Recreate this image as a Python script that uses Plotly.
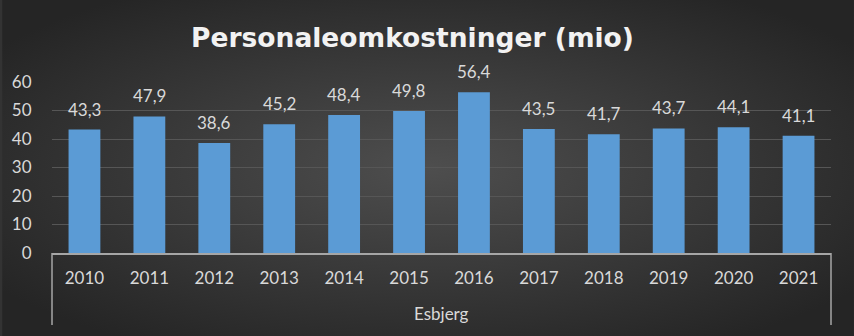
import base64
import plotly.graph_objects as go

years = ["2010", "2011", "2012", "2013", "2014", "2015", "2016", "2017", "2018", "2019", "2020", "2021"]
values = [43.3, 47.9, 38.6, 45.2, 48.4, 49.8, 56.4, 43.5, 41.7, 43.7, 44.1, 41.1]
group_label = "Esbjerg"
title_text = "Personaleomkostninger (mio)"
y_ticks = [0, 10, 20, 30, 40, 50, 60]

W, H = 854, 336
L, R, T, B = 50, 23, 82, 83
pw, ph = W - L - R, H - T - B

svg = f'''<svg xmlns="http://www.w3.org/2000/svg" width="{W}" height="{H}" viewBox="0 0 {W} {H}" preserveAspectRatio="none">
<defs>
<radialGradient id="g" cx="50%" cy="50%" r="62%" gradientUnits="objectBoundingBox">
<stop offset="0%" stop-color="#4e4e4e"/>
<stop offset="100%" stop-color="#252525"/>
</radialGradient>
</defs>
<rect x="0" y="0" width="{W}" height="{H}" fill="url(#g)"/>
</svg>'''
bg_uri = "data:image/svg+xml;base64," + base64.b64encode(svg.encode()).decode()

txt_color = "#d9d9d9"
font_family = "Lato, 'Open Sans', sans-serif"

fig = go.Figure()
fig.add_trace(go.Bar(
    x=years, y=values,
    marker=dict(color="#5b9bd5", line=dict(width=0)),
    width=0.49,
    hoverinfo="skip",
))

annotations = []
for i, v in enumerate(values):
    annotations.append(dict(
        x=i, y=v, xref="x", yref="y",
        text=f"{v:.1f}".replace(".", ","),
        showarrow=False, yanchor="bottom", yshift=8,
        font=dict(size=17, color=txt_color, family=font_family),
    ))
annotations.append(dict(
    x=0.5, y=-(313 - (T + ph)) / ph, xref="paper", yref="paper",
    text=group_label, showarrow=False, xanchor="center", yanchor="middle",
    font=dict(size=17, color=txt_color, family=font_family),
))

shapes = [
    dict(type="line", xref="paper", yref="paper", x0=0, x1=0, y0=0, y1=-(325 - (T + ph)) / ph,
         line=dict(color="#a6a6a6", width=1.5)),
    dict(type="line", xref="paper", yref="paper", x0=1, x1=1, y0=0, y1=-(325 - (T + ph)) / ph,
         line=dict(color="#a6a6a6", width=1.5)),
]

fig.update_layout(
    width=W, height=H,
    margin=dict(l=L, r=R, t=T, b=B, pad=0),
    paper_bgcolor="#333333",
    plot_bgcolor="rgba(0,0,0,0)",
    images=[dict(source=bg_uri, xref="paper", yref="paper",
                 x=-L / pw, y=1 + T / ph, sizex=W / pw, sizey=H / ph,
                 xanchor="left", yanchor="top", sizing="stretch", layer="below")],
    title=dict(text=f"<b>{title_text}</b>", x=412.5 / W, xanchor="center", y=1 - 38 / H, yanchor="middle",
               font=dict(size=26.5, color="#f2f2f2", family="'DejaVu Sans', sans-serif")),
    showlegend=False,
    annotations=annotations,
    shapes=shapes,
    xaxis=dict(
        type="category", range=[-0.5, len(years) - 0.5], autorange=False,
        showgrid=False, showline=True, linecolor="#a6a6a6", linewidth=1.5,
        ticks="outside", ticklen=9, tickcolor="rgba(0,0,0,0)",
        tickfont=dict(size=17, color=txt_color, family=font_family),
        zeroline=False,
    ),
    yaxis=dict(
        range=[0, 60], autorange=False, tickvals=y_ticks, showgrid=True, gridcolor="#565656", gridwidth=1,
        showline=False, zeroline=False,
        ticks="outside", ticklen=16, tickcolor="rgba(0,0,0,0)",
        tickfont=dict(size=17, color=txt_color, family=font_family),
    ),
)

fig.write_html("out.html")
